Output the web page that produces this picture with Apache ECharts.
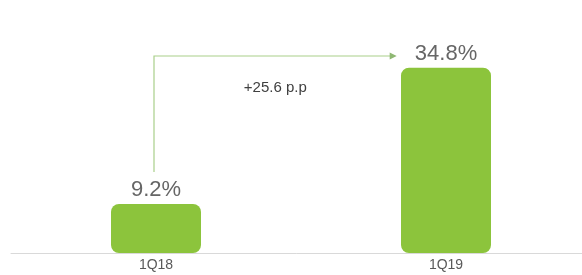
<!DOCTYPE html>
<html>
<head>
<meta charset="utf-8">
<script src="https://cdn.jsdelivr.net/npm/echarts@6/dist/echarts.min.js"></script>
<style>
    html, body { margin: 0; padding: 0; background: #fff; }
    #main { width: 582px; height: 275px; }
</style>
</head>
<body>
<div id="main"></div>
<script>
var categories = ['1Q18', '1Q19'];
var values = [9.2, 34.8];
var valueLabels = ['9.2%', '34.8%'];

// arrow: starts above 1Q18 label, goes up, then right toward 1Q19
var arrowStart = [0, 15.2];
var arrowTopValue = 37;
var arrowEndIndex = 0.83;
var arrowText = '+25.6 p.p';

var myChart = echarts.init(document.getElementById('main'));

var option = {
    animation: false,
    grid: {
        left: 11,
        width: 580,
        top: 40,
        bottom: 22,
        outerBoundsMode: 'none'
    },
    xAxis: {
        type: 'category',
        data: categories,
        axisLine: { lineStyle: { color: '#d9d9d9', width: 1 } },
        axisTick: { show: false },
        axisLabel: {
            color: '#595959',
            fontFamily: 'Liberation Sans',
            fontSize: 14,
            margin: 5
        }
    },
    yAxis: {
        type: 'value',
        min: 0,
        max: 40,
        show: false,
        splitLine: { show: false }
    },
    series: [
        {
            type: 'bar',
            data: values,
            barWidth: 90,
            itemStyle: {
                color: '#8cc43c',
                borderRadius: 8
            },
            label: {
                show: true,
                position: 'top',
                distance: 3,
                color: '#666666',
                fontFamily: 'Liberation Sans',
                fontSize: 22,
                formatter: function (p) {
                    return valueLabels[p.dataIndex];
                }
            }
        }
    ]
};

myChart.setOption(option);

function xPix(idx) {
    var a = myChart.convertToPixel({ xAxisIndex: 0 }, categories[0]);
    var b = myChart.convertToPixel({ xAxisIndex: 0 }, categories[1]);
    return a + (b - a) * idx;
}
function yPix(v) {
    return myChart.convertToPixel({ yAxisIndex: 0 }, v);
}

var x0 = xPix(arrowStart[0]) - 2;
var y0 = yPix(arrowStart[1]);
var yT = yPix(arrowTopValue);
var x1 = xPix(arrowEndIndex);

myChart.setOption({
    graphic: [
        {
            type: 'polyline',
            shape: { points: [[x0, y0], [x0, yT], [x1 - 6, yT]] },
            style: { stroke: '#a9cf8a', lineWidth: 1.2, fill: null }
        },
        {
            type: 'polygon',
            shape: { points: [[x1 - 7, yT - 3.5], [x1, yT], [x1 - 7, yT + 3.5]] },
            style: { fill: '#8fb873' }
        },
        {
            type: 'text',
            x: (x0 + x1) / 2,
            y: yT + 32,
            style: {
                text: arrowText,
                fill: '#404040',
                font: '15px "Liberation Sans"',
                align: 'center',
                verticalAlign: 'middle'
            }
        }
    ]
});
</script>
</body>
</html>
